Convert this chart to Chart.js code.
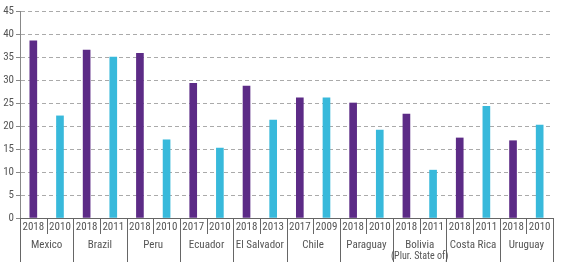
<!DOCTYPE html>
<html lang="en">
<head>
<meta charset="UTF-8">
<title>Chart</title>
<script src="https://cdn.jsdelivr.net/npm/chart.js"></script>
<style>
  html, body { margin: 0; padding: 0; background: #fff; }
  .wrap { width: 563px; height: 267px; position: relative; }
</style>
</head>
<body>
<div class="wrap"><canvas id="chart"></canvas></div>
<script>
  const countries = ["Mexico", "Brazil", "Peru", "Ecuador", "El Salvador", "Chile", "Paraguay", "Bolivia\n(Plur. State of)", "Costa Rica", "Uruguay"];
  const recentYears = ["2018", "2018", "2018", "2017", "2018", "2017", "2018", "2018", "2018", "2018"];
  const olderYears = ["2010", "2011", "2010", "2010", "2013", "2009", "2010", "2011", "2011", "2010"];
  const recentValues = [38.5, 36.5, 35.8, 29.3, 28.7, 26.1, 25.0, 22.6, 17.4, 16.8];
  const olderValues = [22.2, 35.0, 17.0, 15.2, 21.3, 26.1, 19.1, 10.4, 24.3, 20.2];
  const yTicks = [0, 5, 10, 15, 20, 25, 30, 35, 40, 45];

  const font = "'Liberation Sans Narrow', 'Roboto Condensed', Roboto, sans-serif";

  // two bars per country, recent first
  const labels = [];
  const recentData = [];
  const olderData = [];
  countries.forEach((c, i) => {
    labels.push(recentYears[i], olderYears[i]);
    recentData.push(recentValues[i], null);
    olderData.push(null, olderValues[i]);
  });

  const groupDividers = {
    id: "groupDividers",
    afterDraw(chart) {
      const x = chart.scales.x;
      const ctx = chart.ctx;
      const bottom = chart.chartArea.bottom;
      const half = (x.getPixelForValue(1) - x.getPixelForValue(0)) / 2;
      ctx.save();
      ctx.strokeStyle = "#666";
      ctx.lineWidth = 1;
      for (let i = 0; i <= labels.length; i++) {
        const px = Math.round((i < labels.length ? x.getPixelForValue(i) - half : x.getPixelForValue(i - 1) + half)) + 0.5;
        ctx.beginPath();
        ctx.moveTo(px, bottom);
        ctx.lineTo(px, i % 2 === 0 ? 262 : 234);
        ctx.stroke();
      }
      ctx.fillStyle = "#555";
      ctx.textAlign = "center";
      ctx.textBaseline = "middle";
      countries.forEach((c, k) => {
        const cx = (x.getPixelForValue(2 * k) + x.getPixelForValue(2 * k + 1)) / 2;
        const parts = c.split("\n");
        ctx.font = "11px " + font;
        ctx.fillText(parts[0], cx, 245);
        if (parts[1]) {
          ctx.font = "10px " + font;
          ctx.fillText(parts[1], cx, 256);
        }
      });
      ctx.restore();
    }
  };

  new Chart(document.getElementById("chart"), {
    type: "bar",
    data: {
      labels,
      datasets: [
        { label: "Recent", data: recentData, backgroundColor: "#5c2b86", barThickness: 7 },
        { label: "Earlier", data: olderData, backgroundColor: "#38b9db", barThickness: 7 }
      ]
    },
    options: {
      responsive: true,
      maintainAspectRatio: false,
      animation: false,
      events: [],
      layout: { padding: { top: 11, right: 10, left: 0, bottom: 0 } },
      plugins: { legend: { display: false }, tooltip: { enabled: false } },
      datasets: { bar: { grouped: false, skipNull: true } },
      scales: {
        x: {
          grid: { display: false, drawTicks: false },
          border: { color: "#666", width: 1 },
          ticks: { color: "#555", font: { family: font, size: 11 }, padding: 3, maxRotation: 0, autoSkip: false },
          afterFit(s) { s.height = 49; }
        },
        y: {
          min: 0,
          max: 45,
          afterBuildTicks(s) { s.ticks = yTicks.map(v => ({ value: v })); },
          grid: { color: "#aaa", tickColor: "#888", tickLength: 4, tickBorderDash: [] },
          border: { color: "#888", dash: [4, 3] },
          ticks: { color: "#555", font: { family: font, size: 11 }, padding: 2 },
          afterFit(s) { s.width = 20; }
        }
      }
    },
    plugins: [groupDividers]
  });
</script>
</body>
</html>
